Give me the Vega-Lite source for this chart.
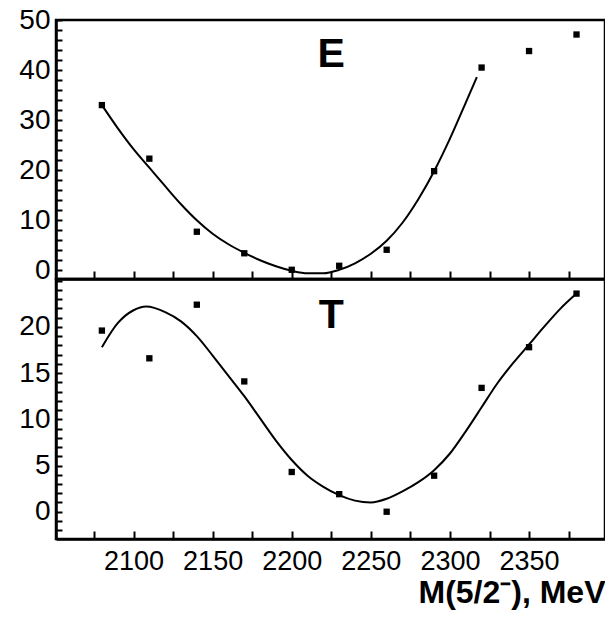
{
  "$schema": "https://vega.github.io/schema/vega-lite/v6.json",
  "padding": {"left": 17, "top": 4, "right": 0, "bottom": 0},
  "background": "white",
  "spacing": 0,
  "bounds": "flush",
  "config": {
    "view": {"stroke": "black", "strokeWidth": 2.5},
    "font": "Liberation Sans, Arial, sans-serif",
    "axis": {
      "domain": true,
      "domainColor": "black",
      "domainWidth": 2.5,
      "grid": false,
      "tickColor": "black",
      "tickWidth": 2,
      "labelColor": "black",
      "labelFont": "Liberation Sans, Arial, sans-serif",
      "titleFont": "Liberation Sans, Arial, sans-serif",
      "titleColor": "black"
    }
  },
  "datasets": {
    "ePts": [
      {"m": 2080, "v": 33.0}, {"m": 2110, "v": 22.3}, {"m": 2140, "v": 7.7},
      {"m": 2170, "v": 3.4}, {"m": 2200, "v": 0.1}, {"m": 2230, "v": 0.9},
      {"m": 2260, "v": 4.1}, {"m": 2290, "v": 19.8}, {"m": 2320, "v": 40.5},
      {"m": 2350, "v": 43.8}, {"m": 2380, "v": 47.1}
    ],
    "eFit": [
      {"m": 2080, "v": 33.0}, {"m": 2090, "v": 28.4}, {"m": 2100, "v": 24.2},
      {"m": 2110, "v": 20.5}, {"m": 2120, "v": 16.8}, {"m": 2130, "v": 13.2},
      {"m": 2140, "v": 10.0}, {"m": 2150, "v": 7.3}, {"m": 2160, "v": 5.2},
      {"m": 2170, "v": 3.5}, {"m": 2180, "v": 2.0}, {"m": 2190, "v": 0.8},
      {"m": 2200, "v": -0.1}, {"m": 2210, "v": -0.6}, {"m": 2220, "v": -0.6},
      {"m": 2230, "v": 0.1}, {"m": 2240, "v": 1.4}, {"m": 2250, "v": 3.3},
      {"m": 2260, "v": 5.9}, {"m": 2270, "v": 9.5}, {"m": 2280, "v": 14.2},
      {"m": 2290, "v": 19.8}, {"m": 2300, "v": 26.3}, {"m": 2310, "v": 33.5},
      {"m": 2317, "v": 38.6}
    ],
    "tPts": [
      {"m": 2080, "v": 19.6}, {"m": 2110, "v": 16.6}, {"m": 2140, "v": 22.4},
      {"m": 2170, "v": 14.1}, {"m": 2200, "v": 4.3}, {"m": 2230, "v": 1.9},
      {"m": 2260, "v": 0.0}, {"m": 2290, "v": 3.9}, {"m": 2320, "v": 13.4},
      {"m": 2350, "v": 17.8}, {"m": 2380, "v": 23.6}
    ],
    "tFit": [
      {"m": 2080, "v": 17.8}, {"m": 2090, "v": 20.4}, {"m": 2100, "v": 21.8},
      {"m": 2108, "v": 22.2}, {"m": 2120, "v": 21.6}, {"m": 2130, "v": 20.6},
      {"m": 2140, "v": 19.0}, {"m": 2150, "v": 16.9}, {"m": 2160, "v": 14.7},
      {"m": 2170, "v": 12.5}, {"m": 2180, "v": 10.1}, {"m": 2190, "v": 7.7},
      {"m": 2200, "v": 5.6}, {"m": 2210, "v": 3.9}, {"m": 2220, "v": 2.7},
      {"m": 2230, "v": 1.8}, {"m": 2240, "v": 1.2}, {"m": 2250, "v": 1.0},
      {"m": 2260, "v": 1.4}, {"m": 2270, "v": 2.2}, {"m": 2280, "v": 3.2},
      {"m": 2290, "v": 4.5}, {"m": 2300, "v": 6.3}, {"m": 2310, "v": 8.7},
      {"m": 2320, "v": 11.3}, {"m": 2330, "v": 13.9}, {"m": 2340, "v": 16.1},
      {"m": 2350, "v": 18.1}, {"m": 2360, "v": 20.1}, {"m": 2370, "v": 22.0},
      {"m": 2380, "v": 23.6}
    ],
    "eLab": [{"m": 2225, "v": 40.7, "t": "E"}],
    "tLab": [{"m": 2225, "v": 19.9, "t": "T"}]
  },
  "vconcat": [
    {
      "width": 549,
      "height": 259,
      "encoding": {
        "x": {
          "field": "m", "type": "quantitative",
          "scale": {"domain": [2051, 2398], "nice": false, "zero": false},
          "axis": {
            "values": [2075, 2100, 2125, 2150, 2175, 2200, 2225, 2250, 2275, 2300, 2325, 2350, 2375],
            "labels": false,
            "title": null,
            "tickSize": -8
          }
        },
        "y": {
          "field": "v", "type": "quantitative",
          "scale": {"domain": [-1.74, 50], "nice": false, "zero": false},
          "axis": {
            "values": [0, 2, 4, 6, 8, 10, 12, 14, 16, 18, 20, 22, 24, 26, 28, 30, 32, 34, 36, 38, 40, 42, 44, 46, 48, 50],
            "labelExpr": "datum.value % 10 === 0 ? datum.label : ''",
            "labelFontSize": 28,
            "labelPadding": 12,
            "title": null,
            "tickSize": -6
          }
        }
      },
      "layer": [
        {"data": {"name": "eFit"}, "mark": {"type": "line", "color": "black", "strokeWidth": 2, "interpolate": "monotone"}},
        {"data": {"name": "ePts"}, "mark": {"type": "point", "shape": "square", "filled": true, "color": "black", "size": 40, "opacity": 1}},
        {"data": {"name": "eLab"}, "mark": {"type": "text", "fontSize": 41, "fontWeight": "bold", "baseline": "alphabetic", "align": "center", "color": "black"},
         "encoding": {"text": {"field": "t"}}}
      ]
    },
    {
      "width": 549,
      "height": 260,
      "encoding": {
        "x": {
          "field": "m", "type": "quantitative",
          "scale": {"domain": [2051, 2398], "nice": false, "zero": false},
          "axis": {
            "values": [2075, 2100, 2125, 2150, 2175, 2200, 2225, 2250, 2275, 2300, 2325, 2350, 2375],
            "format": "d",
            "labelExpr": "datum.value % 50 === 0 ? datum.label : ''",
            "labelFontSize": 27,
            "labelPadding": 17,
            "title": "M(5/2⁻), MeV",
            "titleFontSize": 32,
            "titleFontWeight": "bold",
            "titleAnchor": "end",
            "titlePadding": 3,
            "tickSize": -8
          }
        },
        "y": {
          "field": "v", "type": "quantitative",
          "scale": {"domain": [-2.95, 25.18], "nice": false, "zero": false},
          "axis": {
            "values": [-2, -1, 0, 1, 2, 3, 4, 5, 6, 7, 8, 9, 10, 11, 12, 13, 14, 15, 16, 17, 18, 19, 20, 21, 22, 23, 24, 25],
            "labelExpr": "datum.value % 5 === 0 && datum.value < 25 ? datum.label : ''",
            "labelFontSize": 28,
            "labelPadding": 12,
            "title": null,
            "tickSize": -6
          }
        }
      },
      "layer": [
        {"data": {"name": "tFit"}, "mark": {"type": "line", "color": "black", "strokeWidth": 2, "interpolate": "monotone"}},
        {"data": {"name": "tPts"}, "mark": {"type": "point", "shape": "square", "filled": true, "color": "black", "size": 40, "opacity": 1}},
        {"data": {"name": "tLab"}, "mark": {"type": "text", "fontSize": 41, "fontWeight": "bold", "baseline": "alphabetic", "align": "center", "color": "black"},
         "encoding": {"text": {"field": "t"}}}
      ]
    }
  ]
}
